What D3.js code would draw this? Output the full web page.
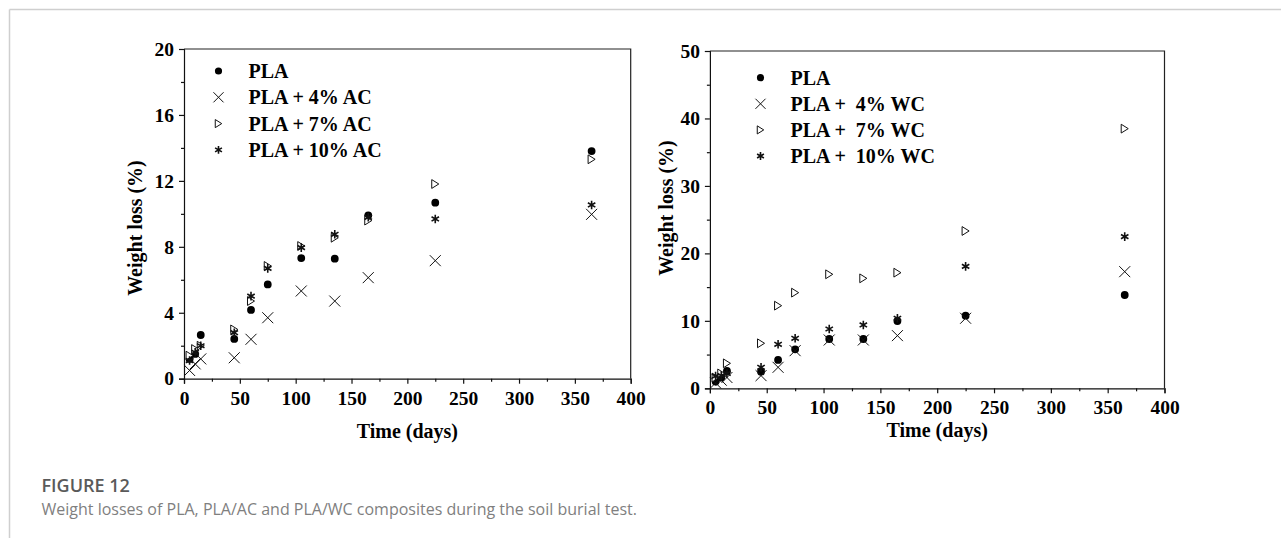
<!DOCTYPE html>
<html>
<head>
<meta charset="utf-8">
<script src="https://cdn.jsdelivr.net/npm/d3@7"></script>
<style>
  html, body { margin: 0; padding: 0; background: #fff; }
  svg { display: block; }
</style>
</head>
<body>
<svg id="fig" width="1281" height="538"></svg>
<script>
// Sampling days of the soil burial test
const days = [5, 10, 15, 45, 60, 75, 105, 135, 165, 225, 365];

// Weight loss (%) — PLA / activated carbon composites
const acPLA  = [1.2, 1.5, 2.65, 2.41, 4.17, 5.72, 7.32, 7.28, 9.91, 10.68, 13.81];
const ac4    = [0.5, 0.9, 1.2, 1.27, 2.39, 3.70, 5.32, 4.71, 6.13, 7.16, 9.97];
const ac7    = [1.4, 1.8, 2.0, 2.99, 4.71, 6.84, 8.05, 8.55, 9.59, 11.81, 13.31];
const ac10   = [1.1, 1.6, 2.0, 2.79, 5.01, 6.69, 7.95, 8.76, 9.79, 9.69, 10.54];

// Weight loss (%) — PLA / wood charcoal composites
const wcPLA  = [1.0, 1.6, 2.57, 2.47, 4.2, 5.78, 7.31, 7.31, 9.98, 10.77, 13.83];
const wc4    = [0.8, 1.2, 1.6, 1.88, 3.11, 5.58, 7.16, 7.16, 7.81, 10.38, 17.29];
const wc7    = [1.6, 2.2, 3.7, 6.67, 12.25, 14.18, 16.9, 16.3, 17.14, 23.32, 38.49];
const wc10   = [1.8, 1.9, 2.2, 3.11, 6.52, 7.41, 8.79, 9.39, 10.38, 18.08, 22.48];

const acLabels = ["PLA", "PLA + 4% AC", "PLA + 7% AC", "PLA + 10% AC"];
const wcLabels = ["PLA", "PLA +  4% WC", "PLA +  7% WC", "PLA +  10% WC"];

const xTicks   = [0, 50, 100, 150, 200, 250, 300, 350, 400];
const acYTicks = [0, 4, 8, 12, 16, 20];
const wcYTicks = [0, 10, 20, 30, 40, 50];

// Marker shapes as d3 symbol types (size = half-extent in px)
const symCircle = { draw(ctx, r) { ctx.moveTo(r, 0); ctx.arc(0, 0, r, 0, 2 * Math.PI); } };
const symCross  = { draw(ctx, r) { ctx.moveTo(-r, -r); ctx.lineTo(r, r); ctx.moveTo(-r, r); ctx.lineTo(r, -r); } };
const symTriR   = { draw(ctx, r) { const w = r * 0.8; ctx.moveTo(-w, -r); ctx.lineTo(w, 0); ctx.lineTo(-w, r); ctx.closePath(); } };
const symStar   = { draw(ctx, r) {
  const t = r * Math.sqrt(3) / 2, s = r / 2;
  ctx.moveTo(0, -r); ctx.lineTo(0, r);
  ctx.moveTo(-t, -s); ctx.lineTo(t, s);
  ctx.moveTo(-t, s); ctx.lineTo(t, -s);
} };

const styles = [
  { type: symCircle, size: 3.9, fill: "#000", stroke: "none", sw: 0 },
  { type: symCross,  size: 5.5, fill: "none", stroke: "#111", sw: 1 },
  { type: symTriR,   size: 4.4, fill: "#fff", stroke: "#111", sw: 1 },
  { type: symStar,   size: 4.3, fill: "none", stroke: "#111", sw: 1.6 }
];

const svg = d3.select("#fig");
const serif = "'Liberation Serif', 'Times New Roman', serif";

// Page frame
svg.append("line").attr("x1", 9.5).attr("x2", 1281).attr("y1", 9.5).attr("y2", 9.5)
  .attr("stroke", "#cfcfcf").attr("stroke-width", 1.5);
svg.append("line").attr("x1", 9.5).attr("x2", 9.5).attr("y1", 9.5).attr("y2", 538)
  .attr("stroke", "#cfcfcf").attr("stroke-width", 1.5);

function panel(cfg) {
  const x = d3.scaleLinear().domain([0, 400]).range([cfg.left, cfg.right]);
  const y = d3.scaleLinear().domain([0, cfg.yMax]).range([cfg.bottom, cfg.top]);
  const g = svg.append("g");

  // minor ticks
  const xMinor = d3.range(0, 401, 25).filter(v => !xTicks.includes(v));
  const yMinor = d3.range(0, cfg.yMax + 0.001, cfg.yMinorStep).filter(v => !cfg.yTicks.includes(v));

  const xAxis = g.append("g").attr("transform", `translate(0,${cfg.bottom})`)
    .call(d3.axisBottom(x).tickValues(xTicks).tickSize(5).tickPadding(7).tickFormat(d3.format("d")));
  g.append("g").attr("transform", `translate(0,${cfg.bottom})`)
    .call(d3.axisBottom(x).tickValues(xMinor).tickSize(3).tickFormat(""))
    .call(a => a.select(".domain").remove());

  g.append("g").attr("transform", `translate(${cfg.left},0)`)
    .call(d3.axisLeft(y).tickValues(cfg.yTicks).tickSize(5).tickPadding(5).tickFormat(d3.format("d")));
  g.append("g").attr("transform", `translate(${cfg.left},0)`)
    .call(d3.axisLeft(y).tickValues(yMinor).tickSize(3).tickFormat(""))
    .call(a => a.select(".domain").remove());

  g.selectAll(".domain").attr("stroke", "#111").attr("stroke-width", 1.2);
  g.selectAll(".tick line").attr("stroke", "#111").attr("stroke-width", 1.2);
  g.selectAll(".tick text").attr("font-family", serif).attr("font-weight", "bold")
    .attr("font-size", 19.5).attr("fill", "#000");
  xAxis.selectAll(".tick text").attr("dy", "0.71em");

  // top and right borders
  g.append("path")
    .attr("d", `M${cfg.left},${cfg.top}H${cfg.right}V${cfg.bottom}`)
    .attr("fill", "none").attr("stroke", "#222").attr("stroke-width", 1.2);

  // axis titles
  g.append("text").attr("x", (cfg.left + cfg.right) / 2).attr("y", cfg.xTitleY)
    .attr("text-anchor", "middle").attr("font-family", serif).attr("font-weight", "bold")
    .attr("font-size", 20).text("Time (days)");
  g.append("text")
    .attr("transform", `translate(${cfg.yTitleX},${cfg.yTitleY}) rotate(-90)`)
    .attr("text-anchor", "middle").attr("dy", "0.35em")
    .attr("font-family", serif).attr("font-weight", "bold")
    .attr("font-size", 20).text("Weight loss (%)");

  // data points
  cfg.series.forEach((vals, i) => {
    const st = styles[i];
    const sym = d3.symbol().type(st.type).size(st.size);
    g.append("g").selectAll("path").data(vals).join("path")
      .attr("transform", (v, k) => `translate(${x(days[k])},${y(v)})`)
      .attr("d", sym)
      .attr("fill", st.fill).attr("stroke", st.stroke).attr("stroke-width", st.sw);
  });

  // legend
  cfg.labels.forEach((lab, i) => {
    const st = styles[i];
    const yy = cfg.legY + i * cfg.legStep;
    g.append("path")
      .attr("transform", `translate(${cfg.legX},${yy})`)
      .attr("d", d3.symbol().type(st.type).size(st.size * 0.92)())
      .attr("fill", st.fill).attr("stroke", st.stroke).attr("stroke-width", st.sw);
    g.append("text").attr("x", cfg.legX + 30).attr("y", yy).attr("dy", "0.35em")
      .attr("font-family", serif).attr("font-weight", "bold").attr("font-size", 20)
      .style("white-space", "pre").text(lab);
  });
}

panel({
  left: 184, right: 630.7, top: 49, bottom: 378.7,
  yMax: 20, yTicks: acYTicks, yMinorStep: 2,
  series: [acPLA, ac4, ac7, ac10], labels: acLabels,
  legX: 218.5, legY: 71, legStep: 26.3,
  xTitleY: 438, yTitleX: 135, yTitleY: 228
});

panel({
  left: 709.9, right: 1164.5, top: 51, bottom: 388.3,
  yMax: 50, yTicks: wcYTicks, yMinorStep: 5,
  series: [wcPLA, wc4, wc7, wc10], labels: wcLabels,
  legX: 760.5, legY: 77.7, legStep: 26.1,
  xTitleY: 437, yTitleX: 665.5, yTitleY: 208
});

// Caption
const sans = "'Open Sans', 'Noto Sans', sans-serif";
svg.append("text").attr("x", 41.5).attr("y", 492)
  .attr("font-family", sans).attr("font-weight", 600).attr("font-size", 18)
  .attr("fill", "#5a5a5a").text("FIGURE 12");
svg.append("text").attr("x", 41.5).attr("y", 515)
  .attr("font-family", sans).attr("font-size", 16)
  .attr("fill", "#7f7f7f")
  .text("Weight losses of PLA, PLA/AC and PLA/WC composites during the soil burial test.");
</script>
</body>
</html>
